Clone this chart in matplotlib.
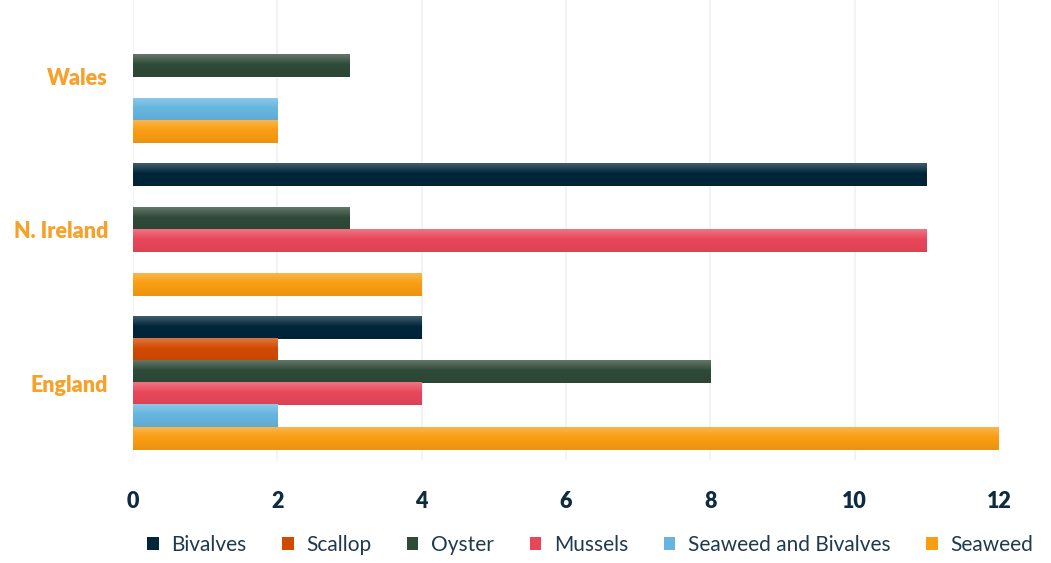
import numpy as np
import matplotlib
matplotlib.use("Agg")
import matplotlib.pyplot as plt
from matplotlib.colors import to_rgb
from matplotlib.patches import Patch

categories = ["England", "N. Ireland", "Wales"]
series = ["Bivalves", "Scallop", "Oyster", "Mussels", "Seaweed and Bivalves", "Seaweed"]
values = {
    "Bivalves":             [4, 11, 0],
    "Scallop":              [2, 0, 0],
    "Oyster":               [8, 3, 3],
    "Mussels":              [4, 11, 0],
    "Seaweed and Bivalves": [2, 0, 2],
    "Seaweed":              [12, 4, 2],
}
colors = ["#00263a", "#d24a00", "#2f4a38", "#e8475a", "#66b5e0", "#f99d12"]
xticks = [0, 2, 4, 6, 8, 10, 12]

fig = plt.figure(figsize=(10.51, 5.63), dpi=100)
ax = fig.add_axes([133/1051, 1-460/563, (999-133)/1051, 460/563])

h = 0.144
ypos = np.arange(len(categories))

def grad(color):
    c = np.array(to_rgb(color))
    t = np.linspace(0, 1, 60)
    f = np.where(t < 0.45, 0.25*(1 - t/0.45), 0.0)
    d = np.where(t > 0.5, 0.06*(t-0.5)/0.5, 0.0)
    rows = c[None, :] + (1 - c[None, :])*f[:, None]
    rows = rows*(1 - d[:, None])
    return np.clip(rows[:, None, :], 0, 1)

for i, s in enumerate(series):
    off = (2.5 - i)*h
    bars = ax.barh(ypos + off, values[s], height=h, color=colors[i], zorder=2, linewidth=0)
    img = grad(colors[i])
    for b in bars:
        if b.get_width() <= 0:
            continue
        x0, y0 = b.get_x(), b.get_y()
        ax.imshow(img, extent=(x0, x0 + b.get_width(), y0, y0 + b.get_height()),
                  origin="upper", aspect="auto", zorder=3, interpolation="bilinear")

ax.set_xlim(0, 12)
ax.set_ylim(-0.5, 2.5)
ax.set_xticks(xticks)
ax.set_xticklabels([str(v) for v in xticks])
ax.set_yticks(ypos)
ax.set_yticklabels(categories)
ax.grid(axis="x", color="#f3f3f3", linewidth=1.5, zorder=0)
ax.set_axisbelow(True)
for sp in ax.spines.values():
    sp.set_visible(False)
ax.tick_params(axis="both", length=0)
ax.tick_params(axis="x", pad=22)
ax.tick_params(axis="y", pad=18)
for lab in ax.get_xticklabels():
    lab.set_fontfamily("Lato")
    lab.set_fontweight("heavy")
    lab.set_fontsize(15.5)
    lab.set_color("#0e2b3f")
for lab in ax.get_yticklabels():
    lab.set_fontfamily("Lato")
    lab.set_fontweight("heavy")
    lab.set_fontsize(15.5)
    lab.set_color("#f7a12a")

handles = [Patch(facecolor=c, edgecolor="none") for c in colors]
leg = fig.legend(handles, series, loc="center", bbox_to_anchor=(590/1051, 1-545/563),
                 ncol=6, frameon=False, handlelength=0.55, handleheight=0.55,
                 handletextpad=0.6, columnspacing=1.72,
                 prop={"family": "Lato", "size": 15})
for t in leg.get_texts():
    t.set_color("#1f3a4d")

fig.savefig("out.png", dpi=100)
